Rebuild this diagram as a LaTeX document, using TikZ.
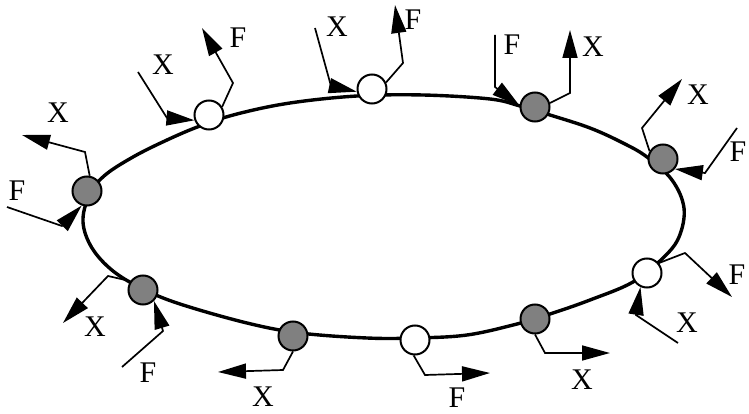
\documentclass[tikz,border=0pt]{standalone}
\usepackage{fontspec}
\setmainfont{Liberation Serif}
\usetikzlibrary{arrows.meta}
\tikzset{
  ring/.style={line width=3.4pt, line join=round},
  wnode/.style={circle, draw, line width=2pt, fill=white, minimum size=29pt, inner sep=0pt},
  gnode/.style={circle, draw, line width=2pt, fill=black!50, minimum size=29pt, inner sep=0pt},
  arr/.style={line width=1.7pt, line join=miter, -{Triangle[length=28pt,width=15pt]}},
  lab/.style={font=\fontsize{30}{30}\selectfont, inner sep=0pt}
}
\begin{document}
\begin{tikzpicture}[x=1pt,y=-1pt]
\useasboundingbox (0,0) rectangle (749,414);
% ring
\draw[ring] plot[smooth cycle, tension=0.6] coordinates {
 (83,222) (89,196) (104,176) (133,157) (167,140) (200,126) (237,114) (290,103)
 (357,96) (423,95) (490,99) (520,106) (550,115) (590,128) (623,143) (647,157)
 (672,180) (684,208) (679,237) (663,258) (633,282) (590,300) (550,314)
 (517,324) (467,335) (415,338) (367,338) (300,333) (247,323) (180,304)
 (143,289) (113,271) (92,248)};
% circles
\node[gnode] (c1) at (87,191) {};
\node[wnode] (c2) at (209,115) {};
\node[wnode] (c3) at (372,89) {};
\node[gnode] (c4) at (535,107) {};
\node[gnode] (c5) at (663,159) {};
\node[wnode] (c6) at (647,273) {};
\node[gnode] (c7) at (535,319) {};
\node[wnode] (c8) at (415,340) {};
\node[gnode] (c9) at (293,336) {};
\node[gnode] (c10) at (143,290) {};
% coordinates
\coordinate (b1x) at (85,152); \coordinate (e1x) at (22,135);
\coordinate (s1f) at (7,207); \coordinate (b1f) at (62,226);
\coordinate (s2x) at (138,72); \coordinate (b2x) at (167,118);
\coordinate (b2f) at (233,83); \coordinate (e2f) at (202,28);
\coordinate (s3x) at (315,28); \coordinate (b3x) at (331,86);
\coordinate (b3f) at (403,63); \coordinate (e3f) at (395,5);
\coordinate (s4f) at (495,35); \coordinate (b4f) at (495,87);
\coordinate (b4x) at (570,93); \coordinate (e4x) at (570,30);
\coordinate (b5x) at (642,128); \coordinate (e5x) at (682,79);
\coordinate (s5f) at (737,128); \coordinate (b5f) at (705,173);
\coordinate (b6f) at (685,253); \coordinate (e6f) at (732,297);
\coordinate (s6x) at (678,343); \coordinate (b6x) at (636,315);
\coordinate (b7x) at (545,353); \coordinate (e7x) at (610,353);
\coordinate (b8f) at (425,375); \coordinate (e8f) at (490,373);
\coordinate (b9x) at (283,370); \coordinate (e9x) at (218,372);
\coordinate (b10x) at (108,276); \coordinate (e10x) at (63,323);
\coordinate (s10f) at (122,367); \coordinate (b10f) at (163,331);
% arrows
\draw[arr] (c1.80) -- (b1x) -- (e1x);
\draw[arr] (s1f) -- (b1f) -- (c1.-110);
\draw[arr] (s2x) -- (b2x) -- (c2.200);
\draw[arr] (c2.32) -- (b2f) -- (e2f);
\draw[arr] (s3x) -- (b3x) -- (c3.190);
\draw[arr] (c3.25) -- (b3f) -- (e3f);
\draw[arr] (s4f) -- (b4f) -- (c4.175);
\draw[arr] (c4.15) -- (b4x) -- (e4x);
\draw[arr] (c5.150) -- (b5x) -- (e5x);
\draw[arr] (s5f) -- (b5f) -- (c5.-40);
\draw[arr] (c6.40) -- (b6f) -- (e6f);
\draw[arr] (s6x) -- (b6x) -- (c6.-115);
\draw[arr] (c7.-90) -- (b7x) -- (e7x);
\draw[arr] (c8.-95) -- (b8f) -- (e8f);
\draw[arr] (c9.-90) -- (b9x) -- (e9x);
\draw[arr] (c10.145) -- (b10x) -- (e10x);
\draw[arr] (s10f) -- (b10f) -- (c10.-45);
% labels
\node[lab] (l1x) at (58,113) {X};
\node[lab] (l1f) at (17,191) {F};
\node[lab] (l2x) at (163,65) {X};
\node[lab] (l2f) at (238,38) {F};
\node[lab] (l3x) at (337,27) {X};
\node[lab] (l3f) at (413,20) {F};
\node[lab] (l4f) at (512,45) {F};
\node[lab] (l4x) at (593,47) {X};
\node[lab] (l5x) at (698,95) {X};
\node[lab] (l5f) at (738,152) {F};
\node[lab] (l6f) at (737,275) {F};
\node[lab] (l6x) at (687,323) {X};
\node[lab] (l7x) at (582,380) {X};
\node[lab] (l8f) at (457,398) {F};
\node[lab] (l9x) at (263,397) {X};
\node[lab] (l10x) at (95,327) {X};
\node[lab] (l10f) at (148,373) {F};
\end{tikzpicture}
\end{document}
